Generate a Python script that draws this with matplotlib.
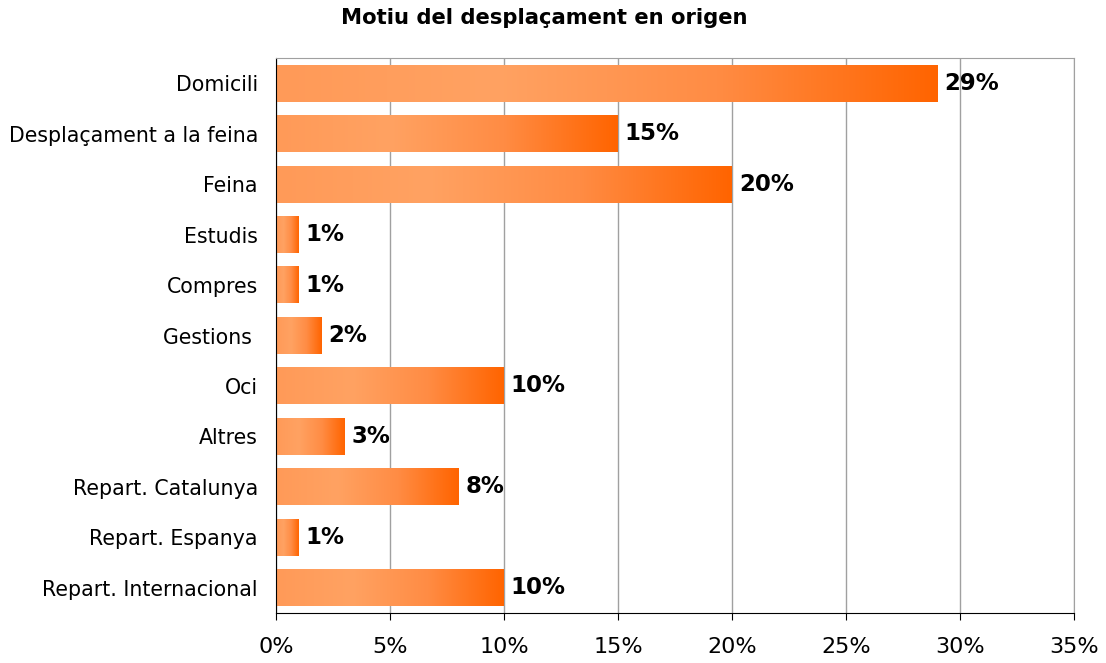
import numpy as np
import matplotlib.pyplot as plt
from matplotlib.colors import LinearSegmentedColormap

# chart data
categories = ['Domicili', 'Desplaçament a la feina', 'Feina', 'Estudis', 'Compres',
              'Gestions ', 'Oci', 'Altres', 'Repart. Catalunya', 'Repart. Espanya',
              'Repart. Internacional']
values = [29, 15, 20, 1, 1, 2, 10, 3, 8, 1, 10]
xticks = [0, 5, 10, 15, 20, 25, 30, 35]

cmap = LinearSegmentedColormap.from_list('orange', ['#ff9a58', '#ffa262', '#ff8c44', '#ff6400'],)
grad = np.linspace(0, 1, 256).reshape(1, -1)

fig = plt.figure(figsize=(11.06, 6.63), dpi=100)
ax = fig.add_axes([276 / 1106, 1 - 613 / 663, (1074 - 276) / 1106, (613 - 58) / 663])

n = len(categories)
ypos = np.arange(n)
h = 0.73
for y, v in zip(ypos, values):
    ax.imshow(grad, cmap=cmap, aspect='auto', extent=(0, v, y + h / 2, y - h / 2), zorder=2)
    ax.text(v + 0.3, y, f'{v}%', va='center', ha='left', fontsize=16.5, fontweight='bold', zorder=3)

ax.set_xlim(0, 35)
ax.set_ylim(n - 0.5, -0.5)
ax.set_xticks(xticks)
ax.set_xticklabels([f'{t}%' for t in xticks], fontsize=16)
ax.set_yticks(ypos)
ax.set_yticklabels(categories, fontsize=14.8)
ax.tick_params(axis='y', length=0, pad=13)
ax.tick_params(axis='x', length=5, direction='out', pad=12)
ax.grid(axis='x', color='#a0a0a0', linewidth=1, zorder=0)
ax.set_axisbelow(True)
for s in ['top', 'right']:
    ax.spines[s].set_color('#a0a0a0')
for s in ['left', 'bottom']:
    ax.spines[s].set_color('black')

fig.text(544 / 1106, 1 - 18 / 663, 'Motiu del desplaçament en origen',
         ha='center', va='center', fontsize=15.2, fontweight='bold')

fig.savefig('out.png', dpi=100)
